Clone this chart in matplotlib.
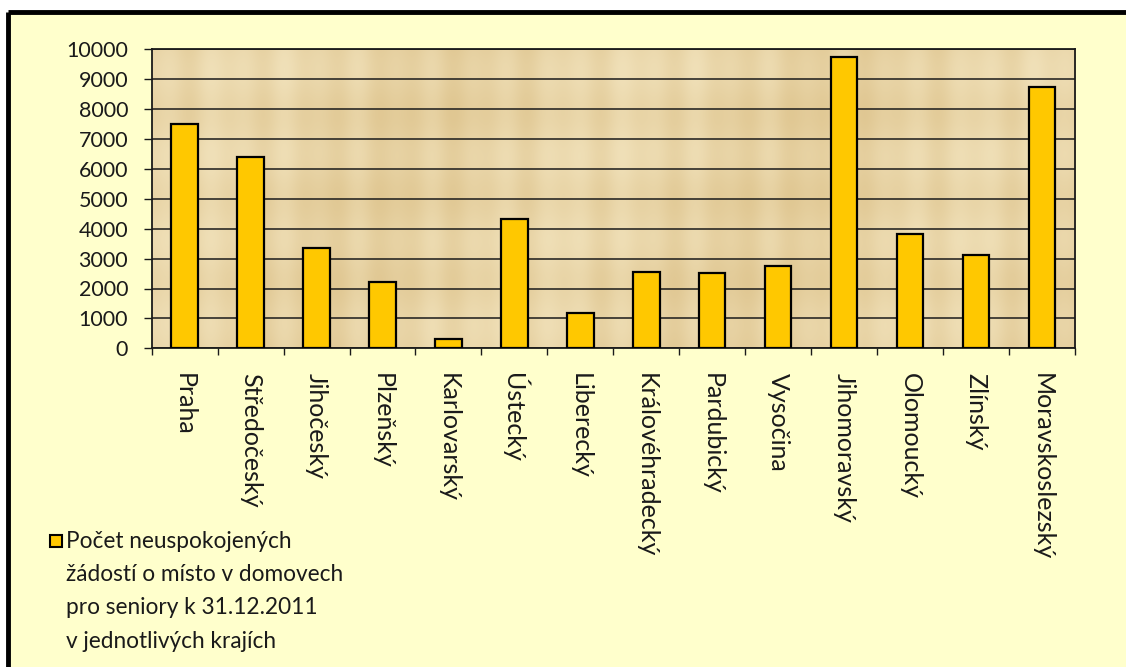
import numpy as np
import matplotlib
matplotlib.use("Agg")
import matplotlib.pyplot as plt
from matplotlib.patches import Rectangle
from matplotlib.lines import Line2D
from matplotlib.colors import LinearSegmentedColormap

regions = ["Praha", "Středočeský", "Jihočeský", "Plzeňský", "Karlovarský",
           "Ústecký", "Liberecký", "Královéhradecký", "Pardubický", "Vysočina",
           "Jihomoravský", "Olomoucký", "Zlínský", "Moravskoslezský"]
requests = [7500, 6400, 3370, 2210, 310, 4320, 1190, 2550, 2510, 2750,
            9750, 3830, 3130, 8750]
yticks = [0, 1000, 2000, 3000, 4000, 5000, 6000, 7000, 8000, 9000, 10000]
legend_text = "Počet neuspokojených\nžádostí o místo v domovech\npro seniory k 31.12.2011\nv jednotlivých krajích"

plt.rcParams['font.family'] = ['Lato', 'DejaVu Sans']

W, H = 1126, 667
fig = plt.figure(figsize=(W / 100, H / 100), dpi=100)
fig.patch.set_facecolor('white')

# slide background and black top/left frame
fig.patches.append(Rectangle((8 / W, 0), 1, 1 - 12 / H, transform=fig.transFigure,
                             facecolor='#FFFFCC', edgecolor='none', zorder=-2))
fig.lines.append(Line2D([8 / W, 1], [1 - 12 / H, 1 - 12 / H], transform=fig.transFigure,
                        color='black', lw=3.5, solid_capstyle='butt', zorder=-1))
fig.lines.append(Line2D([8 / W, 8 / W], [0, 1 - 12 / H], transform=fig.transFigure,
                        color='black', lw=3.5, solid_capstyle='butt', zorder=-1))

left, right, top, bottom = 151.7, 1075, 49.3, 348.3
ax = fig.add_axes([left / W, 1 - bottom / H, (right - left) / W, (bottom - top) / H])
ax.set_zorder(2)

# parchment-like background (flat tone with gentle vertical streaks)
yy, xx = np.mgrid[0:200, 0:600]
tex = (0.55 + 0.2 * np.sin(xx / 5.0) * np.sin(xx / 17.0)
       + 0.15 * np.sin(xx / 41.0 + yy / 90.0) + 0.1 * np.sin(yy / 9.0))
cmap = LinearSegmentedColormap.from_list('parch', ['#E0C792', '#F0E0B8'])
ax.imshow(tex, extent=(-0.5, len(regions) - 0.5, 0, 10000), aspect='auto',
          cmap=cmap, zorder=0, interpolation='bilinear')

x = np.arange(len(regions))
ax.bar(x, requests, width=0.40, color='#FFC800', edgecolor='black', linewidth=1.6, zorder=3)

ax.set_xlim(-0.5, len(regions) - 0.5)
ax.set_ylim(0, 10000)
ax.set_yticks(yticks)
ax.set_yticklabels([str(v) for v in yticks], fontsize=15.5, color='#1a1a1a')
ax.yaxis.grid(True, color='#1a1a1a', linewidth=1.1)
for gl in ax.get_ygridlines():
    gl.set_zorder(1)

ax.set_xticks(x)
ax.set_xticklabels(regions, rotation=270, fontsize=18, color='#1a1a1a',
                   ha='center', va='top')
ax.set_xticks(np.arange(len(regions) + 1) - 0.5, minor=True)
ax.tick_params(axis='x', which='major', length=0, pad=18)
ax.tick_params(axis='x', which='minor', length=5, width=1.0, color='#1a1a1a')
ax.tick_params(axis='y', which='major', length=6, width=1.0, color='#1a1a1a', pad=11)

for s in ax.spines.values():
    s.set_color('#1a1a1a')
    s.set_linewidth(1.3)

# legend
fig.patches.append(Rectangle((50 / W, 1 - 547 / H), 12 / W, 12 / H, transform=fig.transFigure,
                             facecolor='#FFC800', edgecolor='black', linewidth=1.5, zorder=5))
fig.text(66 / W, 1 - 531 / H, legend_text, ha='left', va='top', fontsize=16.3,
         linespacing=1.72, color='#1a1a1a')

fig.savefig('out.png', dpi=100, facecolor=fig.get_facecolor())
